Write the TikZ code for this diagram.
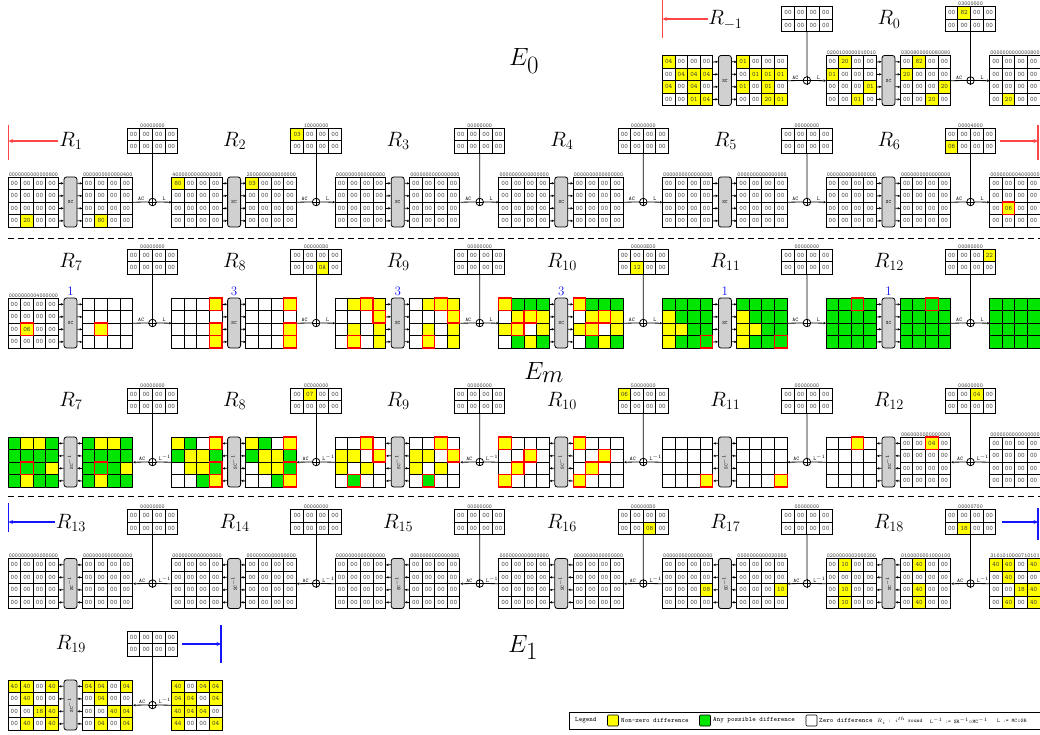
\documentclass[tikz,border=0pt]{standalone}
\usepackage{amsmath}
\usetikzlibrary{arrows.meta}
\definecolor{cy}{RGB}{255,255,0}
\definecolor{cg}{RGB}{0,230,0}
\definecolor{scg}{RGB}{208,208,208}
\definecolor{ctext}{RGB}{60,60,60}
\definecolor{lred}{RGB}{255,70,70}
\definecolor{lblue}{RGB}{20,20,255}
\tikzset{
  cellbox/.style={draw=black,line width=0.9pt,minimum width=12.6pt,minimum height=12.5pt,inner sep=0pt,font=\fontsize{6.8}{6.8}\selectfont\ttfamily,text=ctext},
  cA-w/.style={fill=white},cA-y/.style={fill=cy},cA-g/.style={fill=cg},
  cA-wr/.style={fill=white},cA-yr/.style={fill=cy},cA-gr/.style={fill=cg},
  cB-w/.style={},cB-y/.style={},cB-g/.style={},
  cB-wr/.style={draw=red},cB-yr/.style={draw=red},cB-gr/.style={draw=red},
  gframe/.style={inner sep=0pt,minimum width=50.4pt,minimum height=50pt,anchor=north west},
  kframe/.style={inner sep=0pt,minimum width=50.4pt,minimum height=25pt,anchor=north},
  hexlbl/.style={font=\fontsize{5.8}{5.8}\selectfont\ttfamily,text=ctext,inner sep=0.7pt,anchor=south},
  scbox/.style={draw=black,fill=scg,rounded corners=2.5pt,line width=0.8pt,minimum width=13pt,minimum height=50pt,inner sep=0pt,font=\fontsize{5}{5}\selectfont\ttfamily},
  xorn/.style={circle,draw=black,fill=white,line width=0.8pt,minimum size=7.5pt,inner sep=0pt},
  conn/.style={line width=0.8pt,draw=black},
  arrtip/.style={-{Stealth[length=2.6pt,width=2.4pt]}},
  marktip/.style={-{Stealth[length=4.5pt,width=4pt]}},
  rlbl/.style={font=\fontsize{20}{20}\selectfont,inner sep=0pt,anchor=base},
  elbl/.style={font=\fontsize{36}{36}\selectfont,inner sep=0pt,anchor=base},
  oplbl/.style={font=\fontsize{5.5}{5.5}\selectfont\ttfamily,inner sep=0.5pt,anchor=south},
  bnum/.style={font=\fontsize{13}{13}\selectfont,text=lblue,inner sep=0pt,anchor=base},
  legtxt/.style={font=\fontsize{6.7}{6.7}\selectfont\ttfamily,inner sep=0pt,anchor=west},
  legsm/.style={font=\fontsize{5.4}{5.4}\selectfont\ttfamily,inner sep=0pt,anchor=west},
  legsq/.style={draw=black,line width=0.6pt,minimum size=11pt,inner sep=0pt,rounded corners=1pt},
  redmark/.style={draw=lred,line width=1.2pt},
  bluemark/.style={draw=lblue,line width=1.2pt},
  dashsep/.style={dash pattern=on 6pt off 4pt,line width=0.8pt},
}
\def\Z{w/00,w/00,w/00,w/00,w/00,w/00,w/00,w/00,w/00,w/00,w/00,w/00,w/00,w/00,w/00,w/00}
\def\ZK{w/00,w/00,w/00,w/00,w/00,w/00,w/00,w/00}
\def\BG{g,g,g,g,g,g,g,g,g,g,g,g,g,g,g,g}
% text grid: name, x, ytop, hex, items
\newcommand\tg[5]{%
  \node[gframe] (#1) at (#2,#3) {};
  \edef\lst{#5}%
  \foreach \cod/\txt [count=\i from 0] in \lst {%
    \pgfmathtruncatemacro\rr{floor(\i/4)}%
    \pgfmathtruncatemacro\cc{mod(\i,4)}%
    \node[cellbox,cA-\cod] (#1-\i) at ({#2+\cc*12.6+6.3},{#3+\rr*12.5+6.25}) {\txt};
  }%
  \foreach \cod/\txt [count=\i from 0] in \lst {%
    \pgfmathtruncatemacro\rr{floor(\i/4)}%
    \pgfmathtruncatemacro\cc{mod(\i,4)}%
    \path[cB-\cod,line width=1.1pt] ({#2+\cc*12.6},{#3+\rr*12.5}) rectangle ++(12.6,12.5);
  }%
  \node[hexlbl] (#1-h) at (#1.north) {#4};
}
% blank grid: name, x, ytop, items
\newcommand\bg[4]{%
  \node[gframe] (#1) at (#2,#3) {};
  \edef\lst{#4}%
  \foreach \cod [count=\i from 0] in \lst {%
    \pgfmathtruncatemacro\rr{floor(\i/4)}%
    \pgfmathtruncatemacro\cc{mod(\i,4)}%
    \node[cellbox,cA-\cod] (#1-\i) at ({#2+\cc*12.6+6.3},{#3+\rr*12.5+6.25}) {};
  }%
  \foreach \cod [count=\i from 0] in \lst {%
    \pgfmathtruncatemacro\rr{floor(\i/4)}%
    \pgfmathtruncatemacro\cc{mod(\i,4)}%
    \path[cB-\cod,line width=1.1pt] ({#2+\cc*12.6},{#3+\rr*12.5}) rectangle ++(12.6,12.5);
  }%
}
% key grid: name, xcenter, ytop, hex, items
\newcommand\kg[5]{%
  \node[kframe] (#1) at (#2,#3) {};
  \edef\lst{#5}%
  \foreach \cod/\txt [count=\i from 0] in \lst {%
    \pgfmathtruncatemacro\rr{floor(\i/4)}%
    \pgfmathtruncatemacro\cc{mod(\i,4)}%
    \node[cellbox,cA-\cod] (#1-\i) at ({#2-25.2+\cc*12.6+6.3},{#3+\rr*12.5+6.25}) {\txt};
  }%
  \node[hexlbl] (#1-h) at (#1.north) {#4};
}
% forward round: id, k, ktop, in, out, next, key, blue number
\newcommand\fw[8]{%
  \pgfmathsetmacro\xo{8+163.6*#2}%
  \pgfmathsetmacro\gm{#3+74}%
  \node[scbox] (#1-sc) at (\xo+62.5,\gm) {SC};
  \foreach \d in {18.75,6.25,-6.25,-18.75}{%
    \draw[conn,arrtip] ([yshift=\d pt]#4.east) -- ([yshift=\d pt]#1-sc.west);
    \draw[conn,arrtip] ([yshift=\d pt]#1-sc.east) -- ([yshift=\d pt]#5.west);
  }%
  \node[xorn] (#1-x) at (\xo+144.5,\gm) {};
  \draw[conn] (#5.east) -- (#1-x.west);
  \draw[conn,arrtip] (#1-x.east) -- (#6.west);
  \draw[conn] (#7.south) -- (#1-x.north);
  \draw[conn] (#1-x.north) -- (#1-x.south) (#1-x.west) -- (#1-x.east);
  \node[oplbl] (#1-ac) at (\xo+133,\gm-0.6) {AC};
  \node[oplbl] (#1-l) at (\xo+156,\gm-0.6) {L};
  \node[bnum] (#1-n) at (\xo+62.5,\gm-28) {#8};
}
% backward round
\newcommand\bw[7]{%
  \pgfmathsetmacro\xo{8+163.6*#2}%
  \pgfmathsetmacro\gm{#3+74}%
  \node[scbox] (#1-sc) at (\xo+62.5,\gm) {\rotatebox{90}{SC$^{-1}$}};
  \foreach \d in {18.75,6.25,-6.25,-18.75}{%
    \draw[conn,arrtip] ([yshift=\d pt]#1-sc.west) -- ([yshift=\d pt]#4.east);
    \draw[conn,arrtip] ([yshift=\d pt]#5.west) -- ([yshift=\d pt]#1-sc.east);
  }%
  \node[xorn] (#1-x) at (\xo+144.5,\gm) {};
  \draw[conn] (#6.west) -- (#1-x.east);
  \draw[conn,arrtip] (#1-x.west) -- (#5.east);
  \draw[conn] (#7.south) -- (#1-x.north);
  \draw[conn] (#1-x.north) -- (#1-x.south) (#1-x.west) -- (#1-x.east);
  \node[oplbl] (#1-ac) at (\xo+134,\gm-0.6) {AC};
  \node[oplbl] (#1-l) at (\xo+157,\gm-0.6) {L$^{-1}$};
}
\begin{document}
\begin{tikzpicture}[x=1pt,y=-1pt]
\useasboundingbox (0,0) rectangle (1040,735);
% ================= Row A (E0) =================
\node[elbl] (E0) at (524,66) {$E_0$};
\node[rlbl] (la4) at (725.4,25) {$R_{-1}$};
\node[rlbl] (la5) at (889,25) {$R_{0}$};
\tg{a4i}{662.4}{55.5}{}{y/04,w/00,w/00,w/00,w/00,y/04,y/04,y/04,y/04,w/00,y/04,w/00,w/00,w/00,y/01,y/04}
\tg{a4o}{736.7}{55.5}{}{y/01,w/00,w/00,w/00,w/00,y/01,y/01,y/01,y/01,w/00,y/01,w/00,w/00,w/00,y/20,y/01}
\kg{a4k}{806.9}{6.5}{}{\ZK}
\tg{a5i}{826.0}{55.5}{0200100000010010}{w/00,y/20,w/00,w/00,y/01,w/00,w/00,w/00,w/00,w/00,w/00,y/01,w/00,w/00,y/01,w/00}
\tg{a5o}{900.3}{55.5}{0300800000080080}{w/00,y/82,w/00,w/00,y/20,w/00,w/00,w/00,w/00,w/00,w/00,y/20,w/00,w/00,y/20,w/00}
\kg{a5k}{970.5}{6.5}{03000000}{w/00,y/82,w/00,w/00,w/00,w/00,w/00,w/00}
\tg{a6}{989.6}{55.5}{0000000000000800}{w/00,w/00,w/00,w/00,w/00,w/00,w/00,w/00,w/00,w/00,w/00,w/00,w/00,y/20,w/00,w/00}
\fw{a4}{4}{6.5}{a4i}{a4o}{a5i}{a4k}{}
\fw{a5}{5}{6.5}{a5i}{a5o}{a6}{a5k}{}
\coordinate (am1a) at (708,19); \coordinate (am1b) at (662.5,19);
\draw[redmark] (662.5,0) -- (662.5,38);
\draw[redmark,marktip] (am1a) -- (am1b);
% ================= Row B =================
\node[rlbl] (lb0) at (71,146.5) {$R_{1}$};
\node[rlbl] (lb1) at (234.6,146.5) {$R_{2}$};
\node[rlbl] (lb2) at (398.2,146.5) {$R_{3}$};
\node[rlbl] (lb3) at (561.8,146.5) {$R_{4}$};
\node[rlbl] (lb4) at (725.4,146.5) {$R_{5}$};
\node[rlbl] (lb5) at (889,146.5) {$R_{6}$};
\tg{b0i}{8}{177}{0000000000000800}{w/00,w/00,w/00,w/00,w/00,w/00,w/00,w/00,w/00,w/00,w/00,w/00,w/00,y/20,w/00,w/00}
\tg{b0o}{82.3}{177}{0000000000000400}{w/00,w/00,w/00,w/00,w/00,w/00,w/00,w/00,w/00,w/00,w/00,w/00,w/00,y/80,w/00,w/00}
\kg{b0k}{152.5}{128}{00000000}{\ZK}
\tg{b1i}{171.6}{177}{4000000000000000}{y/80,w/00,w/00,w/00,w/00,w/00,w/00,w/00,w/00,w/00,w/00,w/00,w/00,w/00,w/00,w/00}
\tg{b1o}{245.9}{177}{2000000000000000}{y/03,w/00,w/00,w/00,w/00,w/00,w/00,w/00,w/00,w/00,w/00,w/00,w/00,w/00,w/00,w/00}
\kg{b1k}{316.1}{128}{10000000}{y/03,w/00,w/00,w/00,w/00,w/00,w/00,w/00}
\tg{b2i}{335.2}{177}{0000000000000000}{\Z}
\tg{b2o}{409.5}{177}{0000000000000000}{\Z}
\kg{b2k}{479.7}{128}{00000000}{\ZK}
\tg{b3i}{498.8}{177}{0000000000000000}{\Z}
\tg{b3o}{573.1}{177}{0000000000000000}{\Z}
\kg{b3k}{643.3}{128}{00000000}{\ZK}
\tg{b4i}{662.4}{177}{0000000000000000}{\Z}
\tg{b4o}{736.7}{177}{0000000000000000}{\Z}
\kg{b4k}{806.9}{128}{00000000}{\ZK}
\tg{b5i}{826.0}{177}{0000000000000000}{\Z}
\tg{b5o}{900.3}{177}{0000000000000000}{\Z}
\kg{b5k}{970.5}{128}{00004000}{w/00,w/00,w/00,w/00,y/06,w/00,w/00,w/00}
\tg{b6}{989.6}{177}{0000000004000000}{w/00,w/00,w/00,w/00,w/00,w/00,w/00,w/00,w/00,yr/06,w/00,w/00,w/00,w/00,w/00,w/00}
\fw{b0}{0}{128}{b0i}{b0o}{b1i}{b0k}{}
\fw{b1}{1}{128}{b1i}{b1o}{b2i}{b1k}{}
\fw{b2}{2}{128}{b2i}{b2o}{b3i}{b2k}{}
\fw{b3}{3}{128}{b3i}{b3o}{b4i}{b3k}{}
\fw{b4}{4}{128}{b4i}{b4o}{b5i}{b4k}{}
\fw{b5}{5}{128}{b5i}{b5o}{b6}{b5k}{}
\coordinate (r1a) at (58,141); \coordinate (r1b) at (8.5,141);
\draw[redmark] (8.5,125) -- (8.5,160);
\draw[redmark,marktip] (r1a) -- (r1b);
\coordinate (r6a) at (1000,141); \coordinate (r6b) at (1038,141);
\draw[redmark] (1038,125) -- (1038,160);
\draw[redmark,marktip] (r6a) -- (r6b);
\draw[dashsep] (8,238) -- (1040,238);
% ================= Row C (Em, forward) =================
\node[elbl] (Em) at (544,379) {$E_m$};
\node[rlbl] (lc0) at (71,267.5) {$R_{7}$};
\node[rlbl] (lc1) at (234.6,267.5) {$R_{8}$};
\node[rlbl] (lc2) at (398.2,267.5) {$R_{9}$};
\node[rlbl] (lc3) at (561.8,267.5) {$R_{10}$};
\node[rlbl] (lc4) at (725.4,267.5) {$R_{11}$};
\node[rlbl] (lc5) at (889,267.5) {$R_{12}$};
\tg{c0i}{8}{298}{0000000004000000}{w/00,w/00,w/00,w/00,w/00,w/00,w/00,w/00,w/00,yr/06,w/00,w/00,w/00,w/00,w/00,w/00}
\bg{c0o}{82.3}{298}{w,w,w,w,w,w,w,w,w,yr,w,w,w,w,w,w}
\kg{c0k}{152.5}{249}{00000000}{\ZK}
\bg{c1i}{171.6}{298}{w,w,w,yr,w,w,w,w,w,w,w,yr,w,w,w,yr}
\bg{c1o}{245.9}{298}{w,w,w,yr,w,w,w,w,w,w,w,yr,w,w,w,yr}
\kg{c1k}{316.1}{249}{000000D0}{w/00,w/00,w/00,w/00,w/00,w/00,y/0A,w/00}
\bg{c2i}{335.2}{298}{w,y,yr,y,w,w,w,yr,w,y,w,y,w,yr,w,y}
\bg{c2o}{409.5}{298}{w,y,yr,y,w,w,w,yr,w,y,w,y,w,yr,w,y}
\kg{c2k}{479.7}{249}{00000000}{\ZK}
\bg{c3i}{498.8}{298}{yr,g,g,g,w,y,yr,y,y,yr,w,y,w,g,y,g}
\bg{c3o}{573.1}{298}{yr,g,g,g,w,y,yr,y,y,yr,w,y,w,g,y,g}
\kg{c3k}{643.3}{249}{00000E00}{w/00,w/00,w/00,w/00,w/00,y/12,w/00,w/00}
\bg{c4i}{662.4}{298}{g,g,g,g,y,g,g,g,y,y,g,g,y,g,g,gr}
\bg{c4o}{736.7}{298}{g,g,g,g,y,g,g,g,y,y,g,g,y,g,g,gr}
\kg{c4k}{806.9}{249}{00000000}{\ZK}
\bg{c5i}{826.0}{298}{g,g,gr,g,g,g,g,g,g,g,g,g,g,g,g,g}
\bg{c5o}{900.3}{298}{g,g,gr,g,g,g,g,g,g,g,g,g,g,g,g,g}
\kg{c5k}{970.5}{249}{00080000}{w/00,w/00,w/00,y/22,w/00,w/00,w/00,w/00}
\bg{c6}{989.6}{298}{\BG}
\fw{c0}{0}{249}{c0i}{c0o}{c1i}{c0k}{1}
\fw{c1}{1}{249}{c1i}{c1o}{c2i}{c1k}{3}
\fw{c2}{2}{249}{c2i}{c2o}{c3i}{c2k}{3}
\fw{c3}{3}{249}{c3i}{c3o}{c4i}{c3k}{3}
\fw{c4}{4}{249}{c4i}{c4o}{c5i}{c4k}{1}
\fw{c5}{5}{249}{c5i}{c5o}{c6}{c5k}{1}
% ================= Row D (Em, backward) =================
\node[rlbl] (ld0) at (71,406.5) {$R_{7}$};
\node[rlbl] (ld1) at (234.6,406.5) {$R_{8}$};
\node[rlbl] (ld2) at (398.2,406.5) {$R_{9}$};
\node[rlbl] (ld3) at (561.8,406.5) {$R_{10}$};
\node[rlbl] (ld4) at (725.4,406.5) {$R_{11}$};
\node[rlbl] (ld5) at (889,406.5) {$R_{12}$};
\bg{d0i}{8}{437}{g,y,y,g,g,g,g,g,g,gr,g,y,g,y,g,g}
\bg{d0o}{82.3}{437}{g,y,y,g,g,g,g,g,g,gr,g,y,g,y,g,g}
\kg{d0k}{152.5}{388}{00000000}{\ZK}
\bg{d1i}{171.6}{437}{y,g,w,yr,g,y,y,g,w,y,y,gr,w,w,g,yr}
\bg{d1o}{245.9}{437}{y,g,w,yr,g,y,y,g,w,y,y,gr,w,w,g,yr}
\kg{d1k}{316.1}{388}{0C000000}{w/00,y/07,w/00,w/00,w/00,w/00,w/00,w/00}
\bg{d2i}{335.2}{437}{w,w,yr,w,y,y,w,yr,y,w,y,w,w,gr,w,w}
\bg{d2o}{409.5}{437}{w,w,yr,w,y,y,w,yr,y,w,y,w,w,gr,w,w}
\kg{d2k}{479.7}{388}{00000000}{\ZK}
\bg{d3i}{498.8}{437}{yr,w,w,w,w,w,yr,w,w,yr,w,w,yr,w,w,w}
\bg{d3o}{573.1}{437}{yr,w,w,w,w,w,yr,w,w,yr,w,w,yr,w,w,w}
\kg{d3k}{643.3}{388}{50000000}{y/06,w/00,w/00,w/00,w/00,w/00,w/00,w/00}
\bg{d4i}{662.4}{437}{w,w,w,w,w,w,w,w,w,w,w,w,w,w,w,yr}
\bg{d4o}{736.7}{437}{w,w,w,w,w,w,w,w,w,w,w,w,w,w,w,yr}
\kg{d4k}{806.9}{388}{00000000}{\ZK}
\bg{d5i}{826.0}{437}{w,w,yr,w,w,w,w,w,w,w,w,w,w,w,w,w}
\tg{d5o}{900.3}{437}{0060000000000000}{w/00,w/00,yr/04,w/00,w/00,w/00,w/00,w/00,w/00,w/00,w/00,w/00,w/00,w/00,w/00,w/00}
\kg{d5k}{970.5}{388}{00600000}{w/00,w/00,y/04,w/00,w/00,w/00,w/00,w/00}
\tg{d6}{989.6}{437}{0000000000000000}{\Z}
\bw{d0}{0}{388}{d0i}{d0o}{d1i}{d0k}
\bw{d1}{1}{388}{d1i}{d1o}{d2i}{d1k}
\bw{d2}{2}{388}{d2i}{d2o}{d3i}{d2k}
\bw{d3}{3}{388}{d3i}{d3o}{d4i}{d3k}
\bw{d4}{4}{388}{d4i}{d4o}{d5i}{d4k}
\bw{d5}{5}{388}{d5i}{d5o}{d6}{d5k}
\draw[dashsep] (8,496) -- (1040,496);
% ================= Row E (E1) =================
\node[rlbl] (le0) at (71,528) {$R_{13}$};
\node[rlbl] (le1) at (234.6,528) {$R_{14}$};
\node[rlbl] (le2) at (398.2,528) {$R_{15}$};
\node[rlbl] (le3) at (561.8,528) {$R_{16}$};
\node[rlbl] (le4) at (725.4,528) {$R_{17}$};
\node[rlbl] (le5) at (889,528) {$R_{18}$};
\tg{e0i}{8}{558.5}{0000000000000000}{\Z}
\tg{e0o}{82.3}{558.5}{0000000000000000}{\Z}
\kg{e0k}{152.5}{509.5}{00000000}{\ZK}
\tg{e1i}{171.6}{558.5}{0000000000000000}{\Z}
\tg{e1o}{245.9}{558.5}{0000000000000000}{\Z}
\kg{e1k}{316.1}{509.5}{00000000}{\ZK}
\tg{e2i}{335.2}{558.5}{0000000000000000}{\Z}
\tg{e2o}{409.5}{558.5}{0000000000000000}{\Z}
\kg{e2k}{479.7}{509.5}{00000000}{\ZK}
\tg{e3i}{498.8}{558.5}{0000000000000000}{\Z}
\tg{e3o}{573.1}{558.5}{0000000000000000}{\Z}
\kg{e3k}{643.3}{509.5}{000000D0}{w/00,w/00,w/00,w/00,w/00,w/00,y/08,w/00}
\tg{e4i}{662.4}{558.5}{00000000000D0000}{w/00,w/00,w/00,w/00,w/00,w/00,w/00,w/00,w/00,w/00,w/00,y/08,w/00,w/00,w/00,w/00}
\tg{e4o}{736.7}{558.5}{0000000000020000}{w/00,w/00,w/00,w/00,w/00,w/00,w/00,w/00,w/00,w/00,w/00,y/10,w/00,w/00,w/00,w/00}
\kg{e4k}{806.9}{509.5}{00000000}{\ZK}
\tg{e5i}{826.0}{558.5}{0200000002000200}{w/00,y/10,w/00,w/00,w/00,w/00,w/00,w/00,w/00,y/10,w/00,w/00,w/00,y/10,w/00,w/00}
\tg{e5o}{900.3}{558.5}{0100000001000100}{w/00,y/40,w/00,w/00,w/00,w/00,w/00,w/00,w/00,y/40,w/00,w/00,w/00,y/40,w/00,w/00}
\kg{e5k}{970.5}{509.5}{00000700}{w/00,w/00,w/00,w/00,w/00,y/18,w/00,w/00}
\tg{e6}{989.6}{558.5}{3101010000710101}{y/40,y/40,w/00,y/40,w/00,y/40,w/00,w/00,w/00,w/00,y/18,y/40,w/00,y/40,w/00,y/40}
\bw{e0}{0}{509.5}{e0i}{e0o}{e1i}{e0k}
\bw{e1}{1}{509.5}{e1i}{e1o}{e2i}{e1k}
\bw{e2}{2}{509.5}{e2i}{e2o}{e3i}{e2k}
\bw{e3}{3}{509.5}{e3i}{e3o}{e4i}{e3k}
\bw{e4}{4}{509.5}{e4i}{e4o}{e5i}{e4k}
\bw{e5}{5}{509.5}{e5i}{e5o}{e6}{e5k}
\coordinate (r13a) at (55,522); \coordinate (r13b) at (8.5,522);
\draw[bluemark] (8.5,503) -- (8.5,532);
\draw[bluemark,marktip] (r13a) -- (r13b);
\coordinate (r18a) at (1002,522); \coordinate (r18b) at (1038,522);
\draw[bluemark] (1038,508) -- (1038,540);
\draw[bluemark,marktip] (r18a) -- (r18b);
% ================= Row F =================
\node[elbl] (E1) at (523,652) {$E_1$};
\node[rlbl] (lf0) at (71,649.5) {$R_{19}$};
\tg{f0i}{8}{680}{}{y/40,y/40,w/00,y/40,w/00,y/40,w/00,w/00,w/00,w/00,y/18,y/40,w/00,y/40,w/00,y/40}
\tg{f0o}{82.3}{680}{}{y/04,y/04,w/00,y/04,w/00,y/04,w/00,w/00,w/00,w/00,y/40,y/04,w/00,y/04,w/00,y/04}
\kg{f0k}{152.5}{631}{}{\ZK}
\tg{f1}{171.6}{680}{}{y/40,w/00,y/04,y/04,y/04,y/04,w/00,y/04,y/40,y/04,y/04,w/00,y/44,w/00,w/00,y/04}
\bw{f0}{0}{631}{f0i}{f0o}{f1}{f0k}
\coordinate (r19a) at (182,644); \coordinate (r19b) at (221,644);
\draw[bluemark] (221,625) -- (221,663);
\draw[bluemark,marktip] (r19a) -- (r19b);
% ================= Legend =================
\node[draw=black,line width=0.6pt,inner sep=0pt,minimum width=471pt,minimum height=17pt,anchor=north west] (leg) at (568.5,712) {};
\node[legtxt] (lg0) at (575,720.5) {Legend};
\node[legsq,fill=cy] (lgy) at (613,720.5) {};
\node[legtxt] (lg1) at (621,720.5) {Non-zero difference};
\node[legsq,fill=cg] (lgg) at (705,720.5) {};
\node[legtxt] (lg2) at (713,720.5) {Any possible difference};
\node[legsq,fill=white] (lgw) at (811.5,720.5) {};
\node[legtxt] (lg3) at (819,720.5) {Zero difference};
\node[legsm] (lg4) at (877,720.5) {$R_i$ : $i^{th}$ round};
\node[legsm] (lg5) at (930,720.5) {L$^{-1}$ := SR$^{-1}\circ$MC$^{-1}$};
\node[legsm] (lg6) at (997,720.5) {L := MC$\circ$SR};
\end{tikzpicture}
\end{document}
